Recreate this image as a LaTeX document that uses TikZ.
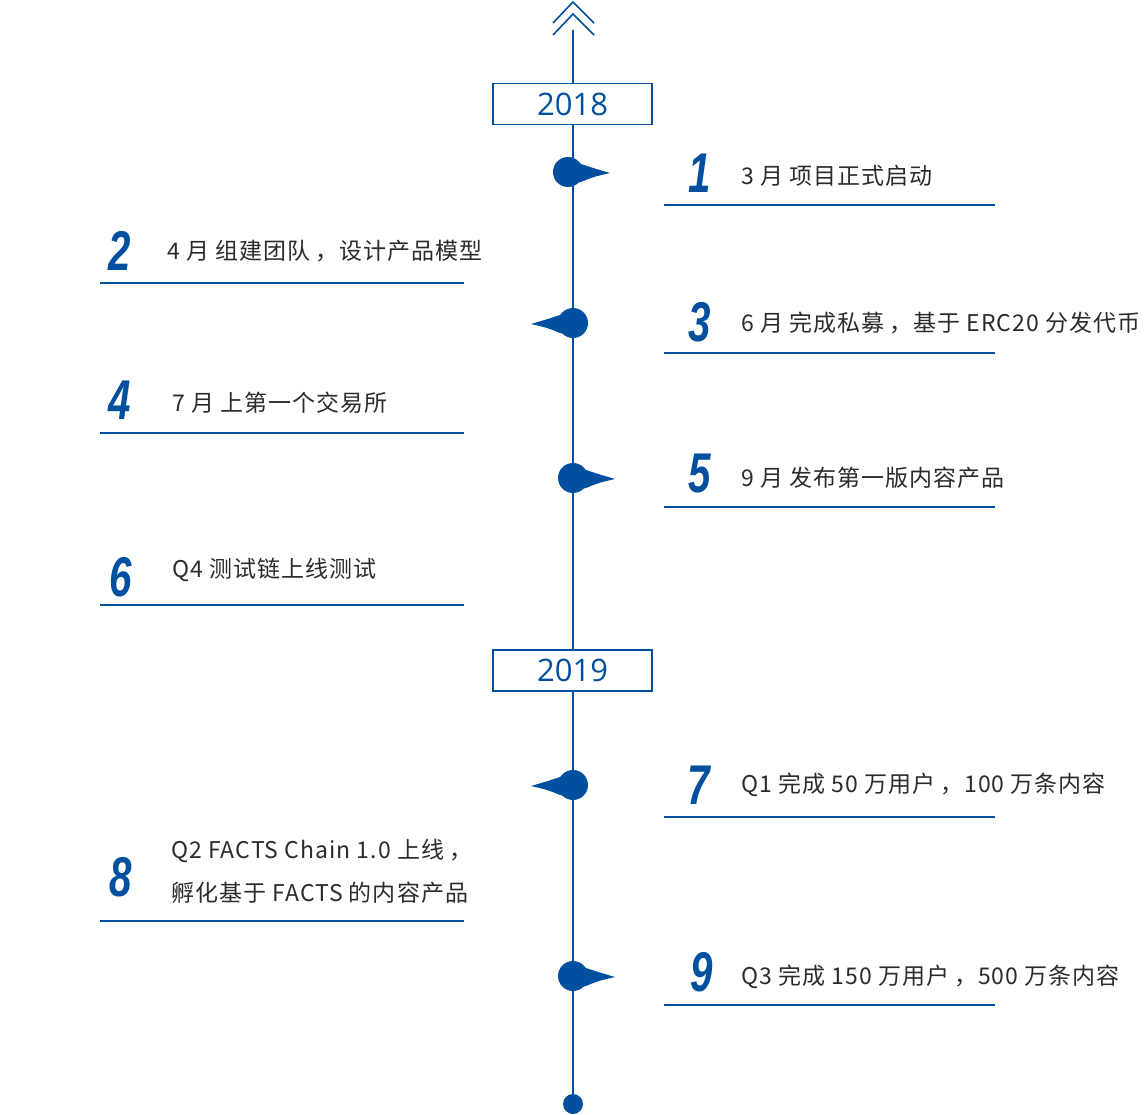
\documentclass[tikz,border=0pt]{standalone}
\usepackage{fontspec}
\setmainfont{Noto Sans CJK SC}[LetterSpace=4.5]
\newfontfamily\numfont{Liberation Sans}
\newfontfamily\yearfont{Open Sans}
\definecolor{tblue}{HTML}{00509F}
\definecolor{ttext}{HTML}{2B2B2B}
\tikzset{
  yearbox/.style={draw=tblue, line width=1.2pt, minimum width=159pt, minimum height=41pt, inner sep=0pt, text=tblue, font=\yearfont\fontsize{31}{31}\selectfont, fill=white},
  numlab/.style={text=tblue, inner sep=0pt, anchor=center},
  itemtxt/.style={text=ttext, font=\fontsize{23}{28}\selectfont, anchor=west, inner sep=0pt},
  uline/.style={draw=tblue, line width=2pt},
  axisline/.style={draw=tblue, line width=2.4pt},
  chev/.style={draw=tblue, line width=1.6pt},
}
\newcommand{\bignum}[1]{\scalebox{0.72}[1]{\numfont\bfseries\itshape\fontsize{56}{56}\selectfont #1}}
\newcommand{\cm}{\hspace{5pt}，}
\newcommand{\drawmarker}[3]{%
  \begin{scope}[shift={(#1,#2)}, xscale=#3]
    \fill[tblue] (0,0) circle (15);
    \fill[tblue] (-2,-13) -- (13,-8) .. controls (25,-4) .. (42,1) .. controls (25,5) .. (13,10) -- (-2,13) -- cycle;
  \end{scope}}
\begin{document}
\begin{tikzpicture}[x=1pt,y=-1pt]
\useasboundingbox (0,0) rectangle (1144,1115);
% axis
\coordinate (top) at (573,30);
\coordinate (bot) at (573,1104);
\draw[axisline] (top) -- (bot);
\fill[tblue] (bot) circle (10);
% chevrons
\draw[chev] (553,23) -- (573,2) -- (594,23);
\draw[chev] (553,35) -- (573,14) -- (594,35);
% year boxes
\node[yearbox] (y2018) at (572.5,104) {2018};
\node[yearbox] (y2019) at (572.5,670.5) {2019};
% markers
\drawmarker{568}{172}{1}
\drawmarker{573}{323}{-1}
\drawmarker{573}{478}{1}
\drawmarker{573}{785}{-1}
\drawmarker{573}{976}{1}
% item 1
\node[numlab] (n1) at (700,173) {\bignum{1}};
\node[itemtxt] (t1) at (741,176) {3 月 项目正式启动};
\draw[uline] (664,205) -- (995,205);
% item 2
\node[numlab] (n2) at (120,251) {\bignum{2}};
\node[itemtxt] (t2) at (167,251) {4 月 组建团队\cm 设计产品模型};
\draw[uline] (100,283) -- (464,283);
% item 3
\node[numlab] (n3) at (700,322) {\bignum{3}};
\node[itemtxt] (t3) at (741,323) {6 月 完成私募\cm 基于 ERC20 分发代币};
\draw[uline] (664,353) -- (995,353);
% item 4
\node[numlab] (n4) at (120,400) {\bignum{4}};
\node[itemtxt] (t4) at (172,403) {7 月 上第一个交易所};
\draw[uline] (100,433) -- (464,433);
% item 5
\node[numlab] (n5) at (700,474) {\bignum{5}};
\node[itemtxt] (t5) at (741,478) {9 月 发布第一版内容产品};
\draw[uline] (664,507) -- (995,507);
% item 6
\node[numlab] (n6) at (121,577) {\bignum{6}};
\node[itemtxt] (t6) at (172,570) {Q4 测试链上线测试};
\draw[uline] (100,605) -- (464,605);
% item 7
\node[numlab] (n7) at (699,785) {\bignum{7}};
\node[itemtxt] (t7) at (741,785) {Q1 完成 50 万用户\cm 100 万条内容};
\draw[uline] (664,817) -- (995,817);
% item 8
\node[numlab] (n8) at (121,877) {\bignum{8}};
\node[itemtxt] (t8a) at (171,851) {Q2 FACTS Chain 1.0 上线\cm};
\node[itemtxt] (t8b) at (171,893) {孵化基于 FACTS 的内容产品};
\draw[uline] (100,921) -- (464,921);
% item 9
\node[numlab] (n9) at (702,972) {\bignum{9}};
\node[itemtxt] (t9) at (741,977) {Q3 完成 150 万用户\cm 500 万条内容};
\draw[uline] (664,1005) -- (995,1005);
\end{tikzpicture}
\end{document}
